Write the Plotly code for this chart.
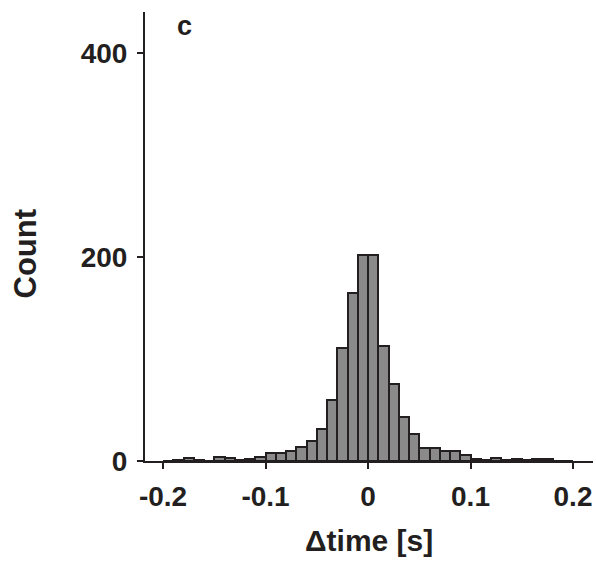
import plotly.graph_objects as go

# Bin left edges (s) and counts, bin width 0.01 s
bin_left = [round(-0.20 + 0.01 * i, 2) for i in range(40)]
counts = [
    0, 1, 3, 1, 0, 4, 3, 1, 2, 4,      # -0.20 .. -0.11
    8, 8, 10, 14, 20, 31, 60, 111, 165, 202,  # -0.10 .. -0.01
    202, 113, 75, 43, 26, 13, 13, 10, 10, 6,  # 0.00 .. 0.09
    2, 1, 3, 1, 2, 1, 2, 2, 0, 0,      # 0.10 .. 0.19
]
bin_width = 0.01
bin_centers = [b + bin_width / 2 for b in bin_left]

x_ticks = [-0.2, -0.1, 0, 0.1, 0.2]
x_ticktext = ["-0.2", "-0.1", "0", "0.1", "0.2"]
y_ticks = [0, 200, 400]

FONT = "Liberation Sans, Arial, sans-serif"
INK = "#231f20"

fig = go.Figure(
    go.Bar(
        x=bin_centers,
        y=counts,
        width=bin_width,
        marker=dict(color="#8a8a8a", line=dict(color=INK, width=2)),
    )
)

fig.update_layout(
    width=596,
    height=562,
    margin=dict(l=145, r=3, t=12, b=101),
    plot_bgcolor="white",
    paper_bgcolor="white",
    showlegend=False,
    bargap=0,
    font=dict(family=FONT, color=INK, size=28),
)

fig.update_xaxes(
    range=[-0.2176, 0.2195],
    tickvals=x_ticks,
    ticktext=x_ticktext,
    showline=True,
    linecolor=INK,
    linewidth=2,
    ticks="outside",
    ticklen=6,
    tickwidth=2,
    tickcolor=INK,
    showgrid=False,
    zeroline=False,
    ticklabelstandoff=3,
    tickfont=dict(family=FONT, size=28, color=INK, weight="bold"),
)
fig.update_yaxes(
    range=[0, 440],
    tickvals=y_ticks,
    showline=True,
    linecolor=INK,
    linewidth=2,
    ticks="outside",
    ticklen=6,
    tickwidth=2,
    tickcolor=INK,
    showgrid=False,
    zeroline=False,
    ticklabelstandoff=4,
    tickfont=dict(family=FONT, size=28, color=INK, weight="bold"),
)

fig.add_annotation(
    text="Δtime [s]", xref="paper", yref="paper", x=0.5, y=0,
    yshift=-79, xanchor="center", yanchor="middle", showarrow=False,
    font=dict(family=FONT, size=30, color=INK, weight="bold"),
)
fig.add_annotation(
    text="Count", xref="paper", yref="paper", x=0, y=0.5,
    xshift=-120, yshift=-17, xanchor="center", yanchor="middle",
    textangle=-90, showarrow=False,
    font=dict(family=FONT, size=31, color=INK, weight="bold"),
)
fig.add_annotation(
    text="c", xref="paper", yref="paper", x=0, y=1,
    xshift=39, yshift=-14, xanchor="center", yanchor="middle", showarrow=False,
    font=dict(family=FONT, size=27, color=INK, weight="bold"),
)

fig.write_html("out.html")
